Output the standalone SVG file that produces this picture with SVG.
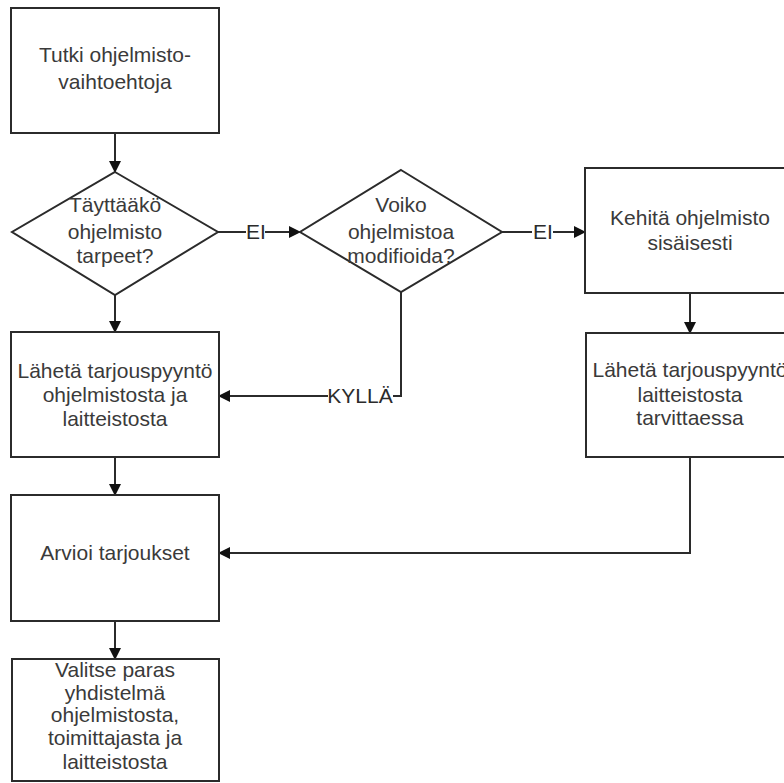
<svg xmlns="http://www.w3.org/2000/svg" width="784" height="783" viewBox="0 0 784 783">
  <style>
    .box { fill: #ffffff; stroke: #2b2b2b; stroke-width: 2; }
    .line { fill: none; stroke: #2b2b2b; stroke-width: 2; }
    .txt { font-family: "Liberation Sans", Arial, sans-serif; font-size: 21px; fill: #3a3a3a; text-anchor: middle; }
    .lbl { font-family: "Liberation Sans", Arial, sans-serif; font-size: 21px; fill: #2b2b2b; text-anchor: middle; }
  </style>
  <defs>
    <marker id="arrow" markerUnits="userSpaceOnUse" markerWidth="12" markerHeight="12" refX="11" refY="6" orient="auto">
      <path d="M0,0 L12,6 L0,12 z" fill="#111111"/>
    </marker>
  </defs>
  <rect width="784" height="783" fill="#ffffff"/>

  <!-- connectors -->
  <g id="connectors">
    <path class="line" d="M115,133 L115,172" marker-end="url(#arrow)"/>
    <path class="line" d="M218,232 L246,232"/>
    <path class="line" d="M265,232 L300,232" marker-end="url(#arrow)"/>
    <path class="line" d="M502,232 L532,232"/>
    <path class="line" d="M553,232 L585,232" marker-end="url(#arrow)"/>
    <path class="line" d="M115,295 L115,332" marker-end="url(#arrow)"/>
    <path class="line" d="M401,292 L401,396 L393,396"/>
    <path class="line" d="M328,396 L219,396" marker-end="url(#arrow)"/>
    <path class="line" d="M690,293 L690,333" marker-end="url(#arrow)"/>
    <path class="line" d="M115,457 L115,495" marker-end="url(#arrow)"/>
    <path class="line" d="M690,457 L690,553 L219,553" marker-end="url(#arrow)"/>
    <path class="line" d="M115,621 L115,659" marker-end="url(#arrow)"/>
    <text class="lbl" x="256" y="239">EI</text>
    <text class="lbl" x="543" y="239">EI</text>
    <text class="lbl" x="360" y="403">KYLLÄ</text>
  </g>

  <!-- nodes -->
  <g id="tutki">
    <rect class="box" x="11" y="8" width="208" height="125"/>
    <text class="txt" x="115" y="62">Tutki ohjelmisto-</text>
    <text class="txt" x="115" y="89">vaihtoehtoja</text>
  </g>

  <g id="tayttaako">
    <polygon class="box" points="115,172 218,232 115,295 12,232"/>
    <text class="txt" x="115" y="212">Täyttääkö</text>
    <text class="txt" x="115" y="239">ohjelmisto</text>
    <text class="txt" x="115" y="263">tarpeet?</text>
  </g>

  <g id="voiko">
    <polygon class="box" points="401,170 502,232 401,292 300,232"/>
    <text class="txt" x="401" y="212">Voiko</text>
    <text class="txt" x="401" y="239">ohjelmistoa</text>
    <text class="txt" x="401" y="263">modifioida?</text>
  </g>

  <g id="kehita">
    <rect class="box" x="585" y="168" width="210" height="125"/>
    <text class="txt" x="690" y="225">Kehitä ohjelmisto</text>
    <text class="txt" x="690" y="250">sisäisesti</text>
  </g>

  <g id="tarjouspyynto-ohjelmisto">
    <rect class="box" x="11" y="332" width="208" height="125"/>
    <text class="txt" x="115" y="378">Lähetä tarjouspyyntö</text>
    <text class="txt" x="115" y="402">ohjelmistosta ja</text>
    <text class="txt" x="115" y="426">laitteistosta</text>
  </g>

  <g id="tarjouspyynto-laitteisto">
    <rect class="box" x="586" y="333" width="210" height="124"/>
    <text class="txt" x="690" y="377">Lähetä tarjouspyyntö</text>
    <text class="txt" x="690" y="402">laitteistosta</text>
    <text class="txt" x="690" y="425">tarvittaessa</text>
  </g>

  <g id="arvioi">
    <rect class="box" x="11" y="495" width="208" height="126"/>
    <text class="txt" x="115" y="560">Arvioi tarjoukset</text>
  </g>

  <g id="valitse">
    <rect class="box" x="12" y="659" width="207" height="122"/>
    <text class="txt" x="115" y="677">Valitse paras</text>
    <text class="txt" x="115" y="700">yhdistelmä</text>
    <text class="txt" x="115" y="722">ohjelmistosta,</text>
    <text class="txt" x="115" y="745">toimittajasta ja</text>
    <text class="txt" x="115" y="769">laitteistosta</text>
  </g>
</svg>
